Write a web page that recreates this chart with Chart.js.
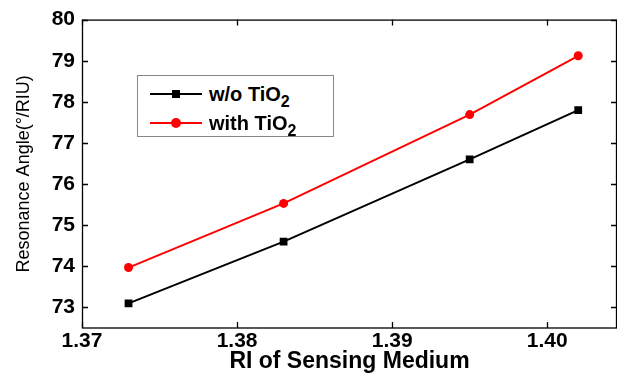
<!DOCTYPE html>
<html>
<head>
<meta charset="utf-8">
<script src="https://cdn.jsdelivr.net/npm/chart.js@4"></script>
<style>
  html, body { margin: 0; padding: 0; background: #fff; overflow: hidden; }
  #wrap { position: relative; width: 617px; height: 373px; }
  #legend {
    position: absolute; left: 137px; top: 75px; width: 197px; height: 62px;
    box-sizing: border-box; border: 1px solid #888; background: #fff;
    font: bold 20px "Liberation Sans", Arial, sans-serif; color: #000;
  }
  .row { position: absolute; left: 0; width: 100%; height: 24px; }
  .sample { position: absolute; left: 12px; top: 11px; width: 52px; height: 2px; }
  .mk { position: absolute; }
  .txt { position: absolute; left: 71px; top: 0; line-height: 24px; white-space: nowrap; }
  sub { font-size: 0.8em; vertical-align: -0.35em; line-height: 0; }
</style>
</head>
<body>
<div id="wrap">
  <canvas id="chart"></canvas>
  <div id="legend">
    <div class="row" style="top:6px">
      <div class="sample" style="background:#000"></div>
      <div class="mk" style="left:34px;top:8px;width:8px;height:8px;background:#000"></div>
      <div class="txt">w/o TiO<sub>2</sub></div>
    </div>
    <div class="row" style="top:35px">
      <div class="sample" style="background:#f00"></div>
      <div class="mk" style="left:33px;top:7px;width:10px;height:10px;border-radius:50%;background:#f00"></div>
      <div class="txt">with TiO<sub>2</sub></div>
    </div>
  </div>
</div>
<script>
// valeurs
const riValues = [1.373, 1.383, 1.395, 1.402];
const withoutTiO2 = [73.1, 74.6, 76.6, 77.8];
const withTiO2 = [73.97, 75.53, 77.69, 79.12];
const xTicks = [1.37, 1.38, 1.39, 1.40];
const yTicks = [73, 74, 75, 76, 77, 78, 79, 80];

const tickFont = { family: '"Liberation Sans", Arial, sans-serif', size: 21, weight: 'bold' };

// cadre avec graduations vers l'intérieur
const frame = {
  id: 'frame',
  beforeDatasetsDraw(chart) {
    const { ctx, chartArea: a, scales: { x, y } } = chart;
    ctx.save();
    ctx.strokeStyle = '#000';
    ctx.lineWidth = 1.3;
    ctx.strokeRect(a.left + 0.5, a.top + 0.5, a.right - a.left - 1, a.bottom - a.top - 0.5);
    ctx.beginPath();
    xTicks.forEach(v => {
      const px = Math.round(x.getPixelForValue(v)) + 0.5;
      ctx.moveTo(px, a.bottom); ctx.lineTo(px, a.bottom - 6);
      ctx.moveTo(px, a.top); ctx.lineTo(px, a.top + 6);
    });
    yTicks.forEach(v => {
      const py = Math.round(y.getPixelForValue(v)) + 0.5;
      ctx.moveTo(a.left, py); ctx.lineTo(a.left + 6, py);
      ctx.moveTo(a.right, py); ctx.lineTo(a.right - 6, py);
    });
    ctx.stroke();
    ctx.restore();
  }
};

const ctx = document.getElementById('chart').getContext('2d');
document.getElementById('chart').parentNode.style.height = '373px';
new Chart(ctx, {
  type: 'line',
  data: {
    datasets: [{
      label: 'w/o TiO2',
      data: riValues.map((v, i) => ({ x: v, y: withoutTiO2[i] })),
      borderColor: '#000',
      backgroundColor: '#000',
      borderWidth: 2,
      pointStyle: 'rect',
      pointRadius: 5.5,
      pointBorderWidth: 0
    }, {
      label: 'with TiO2',
      data: riValues.map((v, i) => ({ x: v, y: withTiO2[i] })),
      borderColor: '#f00',
      backgroundColor: '#f00',
      borderWidth: 2,
      pointStyle: 'circle',
      pointRadius: 4.5,
      pointBorderWidth: 0
    }]
  },
  options: {
    responsive: true,
    maintainAspectRatio: false,
    animation: false,
    layout: { autoPadding: false, padding: { top: 18, left: 0, right: 0, bottom: 0 } },
    plugins: { legend: { display: false }, tooltip: { enabled: false } },
    scales: {
      x: {
        type: 'linear',
        min: 1.37,
        max: 1.4045,
        grid: { display: false, drawTicks: false },
        border: { display: false },
        afterBuildTicks: s => { s.ticks = xTicks.map(v => ({ value: v })); },
        afterFit: s => { s.height = 45; },
        ticks: {
          font: tickFont, color: '#000', padding: 1, maxRotation: 0, autoSkip: false,
          callback: v => v.toFixed(2)
        },
        title: {
          display: true, text: 'RI of Sensing Medium', color: '#000',
          font: { family: '"Liberation Sans", Arial, sans-serif', size: 23, weight: 'bold' },
          padding: { top: 0, bottom: -2 }
        }
      },
      y: {
        min: 72.5,
        max: 80,
        grid: { display: false, drawTicks: false },
        border: { display: false },
        afterBuildTicks: s => { s.ticks = yTicks.map(v => ({ value: v })); },
        afterFit: s => { s.width = 82; },
        ticks: { font: tickFont, color: '#000', padding: 7 },
        title: {
          display: true, text: 'Resonance Angle(°/RIU)', color: '#000',
          font: { family: '"Liberation Sans", Arial, sans-serif', size: 18, weight: 'normal' },
          padding: { top: 13, bottom: 0 }
        }
      }
    }
  },
  plugins: [frame]
});
</script>
</body>
</html>
